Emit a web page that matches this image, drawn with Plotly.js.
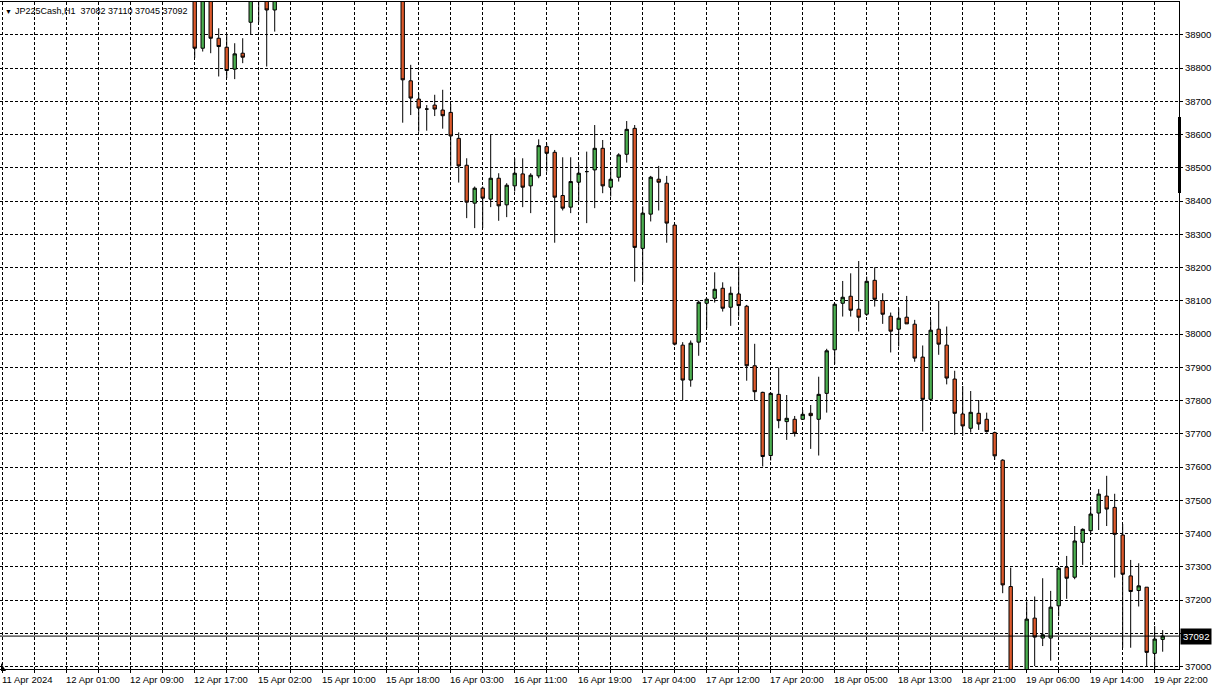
<!DOCTYPE html>
<html>
<head>
<meta charset="utf-8">
<script src="https://cdn.plot.ly/plotly-3.0.1.min.js"></script>
<style>html,body{margin:0;padding:0;background:#fff;}#chart{width:1214px;height:685px;}</style>
</head>
<body>
<div id="chart"></div>
<script>
// Bar number (hours since first bar on the axis); bars fully outside the visible price range are not listed
const bar = [24,25,26,27,28,29,30,31,32,33,34,
  50,51,52,53,54,55,56,57,58,59,60,61,62,63,64,65,66,67,68,69,70,71,72,73,74,75,76,77,78,79,
  80,81,82,83,84,85,86,87,88,89,90,91,92,93,94,95,96,97,98,99,100,101,102,103,104,105,106,107,108,109,
  110,111,112,113,114,115,116,117,118,119,120,121,122,123,124,125,126,
  128,129,130,131,132,133,134,135,136,137,138,139,140,141,142,143,144,145];
const open = [39060,38860,39020,38890,38863,38797,38845,38938,39040,39060,38975,
  39080,38762,38707,38677,38689,38674,38667,38589,38508,38394,38439,38406,38469,38389,38446,38482,38446,38476,38564,38547,38417,38382,38457,38489,38494,38559,38442,38472,38541,38619,
  38258,38361,38466,38454,38328,37967,37862,37976,38093,38108,38138,38081,38121,38084,37905,37825,37635,37819,37737,37744,37744,37762,37744,37822,37953,38093,38114,38075,38060,38162,
  38101,38054,38015,38051,38030,37931,37804,38015,37967,37865,37760,37717,37762,37744,37704,37621,37241,
  36970,37146,37086,37086,37183,37299,37269,37374,37409,37462,37513,37479,37396,37273,37229,37239,37040,37082];
const high = [39080,39040,39040,38920,38900,38875,38890,39060,39090,39080,39070,
  39100,38810,38725,38689,38720,38735,38692,38607,38529,38444,38444,38599,38484,38454,38529,38529,38484,38586,38574,38554,38532,38532,38509,38549,38629,38584,38499,38544,38641,38629,
  38384,38476,38506,38476,38332,37976,37981,38101,38108,38186,38156,38143,38203,38088,37971,37827,37824,37900,37817,37754,37772,37787,37872,37956,38093,38160,38183,38220,38173,38201,
  38123,38065,38078,38115,38043,37966,38043,38100,38023,37890,37844,37829,37802,37764,37707,37624,37298,
  37196,37211,37266,37228,37296,37333,37423,37416,37482,37534,37574,37520,37429,37321,37311,37239,37122,37110];
const low = [38831,38850,38845,38775,38770,38767,38815,38900,38938,38805,38910,
  38636,38659,38609,38612,38656,38618,38504,38456,38349,38319,38319,38382,38341,38352,38429,38382,38364,38469,38489,38275,38372,38364,38399,38334,38379,38424,38414,38459,38516,38158,
  38155,38339,38372,38275,37966,37802,37842,37935,38018,38095,38068,38025,38053,37860,37800,37602,37620,37717,37682,37692,37742,37655,37635,37764,37910,38053,38053,38008,38055,38083,
  38031,37945,37963,38031,37917,37707,37802,37938,37849,37697,37694,37704,37712,37704,37622,37221,36940,
  36950,37002,37062,37018,37151,37204,37263,37306,37396,37411,37423,37268,37057,37057,37181,37002,36985,37045];
const close = [38860,39020,38890,38865,38793,38843,38833,39040,39060,38975,39050,
  38765,38710,38680,38677,38677,38657,38596,38506,38397,38439,38409,38469,38386,38448,38484,38442,38478,38567,38544,38412,38379,38459,38484,38489,38559,38446,38466,38539,38616,38261,
  38364,38472,38457,38334,37970,37862,37973,38096,38105,38135,38078,38123,38086,37905,37827,37632,37822,37740,37747,37702,37759,37755,37819,37950,38090,38111,38072,38051,38159,38105,
  38060,38009,38048,38031,37928,37804,38012,37970,37868,37762,37724,37765,37730,37707,37634,37246,36960,
  37143,37089,37096,37179,37296,37266,37378,37413,37459,37519,37474,37398,37278,37226,37243,37043,37083,37092];

// Time labels on the axis and the bar number each one belongs to
const labelBar = [0,8,16,24,32,40,48,56,64,72,80,88,96,104,112,120,128,136,144];
const labelText = ["11 Apr 2024","12 Apr 01:00","12 Apr 09:00","12 Apr 17:00","15 Apr 02:00","15 Apr 10:00",
  "15 Apr 18:00","16 Apr 03:00","16 Apr 11:00","16 Apr 19:00","17 Apr 04:00","17 Apr 12:00","17 Apr 20:00",
  "18 Apr 05:00","18 Apr 13:00","18 Apr 21:00","19 Apr 06:00","19 Apr 14:00","19 Apr 22:00"];

// Price axis ticks (37100 label is covered by the current price box in the reference)
const yTicks = [37000,37100,37200,37300,37400,37500,37600,37700,37800,37900,
  38000,38100,38200,38300,38400,38500,38600,38700,38800,38900];
const yTickText = ["37000","","37200","37300","37400","37500","37600","37700","37800","37900",
  "38000","38100","38200","38300","38400","38500","38600","38700","38800","38900"];

const symbol = "JP225Cash,H1";
const lastOHLC = [37082, 37110, 37045, 37092];
const lastPrice = 37092;

const FONT = "Liberation Sans, Arial, sans-serif";

const trace = {
  type: "candlestick",
  x: bar, open: open, high: high, low: low, close: close,
  increasing: {line: {color: "#000000", width: 1}, fillcolor: "#4cb050"},
  decreasing: {line: {color: "#000000", width: 1}, fillcolor: "#de5a2c"},
  whiskerwidth: 0,
  hoverinfo: "none",
  showlegend: false
};

const annotations = labelBar.map((b, k) => ({
  x: b, xref: "x", y: 0, yref: "paper",
  xanchor: "left", yanchor: "top", yshift: -3, xshift: -3,
  text: labelText[k], showarrow: false,
  font: {family: FONT, size: 9.5, color: "#000"}
}));

annotations.push({
  x: 0, xref: "paper", y: 1, yref: "paper", xanchor: "left", yanchor: "top",
  xshift: 13, yshift: -2,
  text: symbol + "\u00a0\u00a0" + lastOHLC.join(" "),
  showarrow: false, font: {family: FONT, size: 9, color: "#000"}
});
annotations.push({
  x: 0, xref: "paper", y: 1, yref: "paper", xanchor: "left", yanchor: "top",
  xshift: 3, yshift: -4,
  text: "\u25BC", showarrow: false, font: {family: FONT, size: 7, color: "#000"}
});
annotations.push({
  x: 1, xref: "paper", y: lastPrice, yref: "y", xanchor: "left", yanchor: "middle",
  xshift: 1, text: String(lastPrice), showarrow: false,
  bgcolor: "#000000", borderpad: 2,
  font: {family: FONT, size: 9.5, color: "#ffffff"}
});

const layout = {
  width: 1214, height: 685,
  margin: {l: 0, r: 35, t: 2, b: 16, pad: 0},
  paper_bgcolor: "#ffffff", plot_bgcolor: "#ffffff",
  showlegend: false,
  boxgap: 0.4,
  xaxis: {
    range: [-0.34, 147.04], tickmode: "linear", tick0: 0, dtick: 4,
    showticklabels: false, ticks: "outside", ticklen: 3, tickcolor: "#000",
    showgrid: true, gridcolor: "#000000", gridwidth: 1, griddash: "3px,2px",
    showline: true, linecolor: "#000", linewidth: 1, mirror: true,
    zeroline: false, rangeslider: {visible: false}, fixedrange: true
  },
  yaxis: {
    side: "right", range: [36993, 38999], tickmode: "array",
    tickvals: yTicks, ticktext: yTickText,
    ticks: "outside", ticklen: 3, tickcolor: "#000",
    tickfont: {family: FONT, size: 9.5, color: "#000"},
    showgrid: true, gridcolor: "#000000", gridwidth: 1, griddash: "3px,2px",
    showline: true, linecolor: "#000", linewidth: 1, mirror: true,
    zeroline: false, fixedrange: true
  },
  shapes: [
    {type: "line", xref: "paper", x0: 0, x1: 1, yref: "y", y0: lastPrice, y1: lastPrice,
     line: {color: "#000", width: 1}},
    {type: "rect", xref: "paper", xsizemode: "pixel", xanchor: 1, x0: -1, x1: 2,
     yref: "paper", y0: 0.7136, y1: 0.8276, fillcolor: "#000", line: {width: 0}},
    {type: "path", xref: "paper", xsizemode: "pixel", xanchor: 0,
     yref: "paper", ysizemode: "pixel", yanchor: 0,
     path: "M1,6 L1,-2 L6,-2 Z", fillcolor: "#000", line: {width: 0}}
  ],
  annotations: annotations
};

Plotly.newPlot("chart", [trace], layout, {displayModeBar: false, staticPlot: true});
</script>
</body>
</html>
